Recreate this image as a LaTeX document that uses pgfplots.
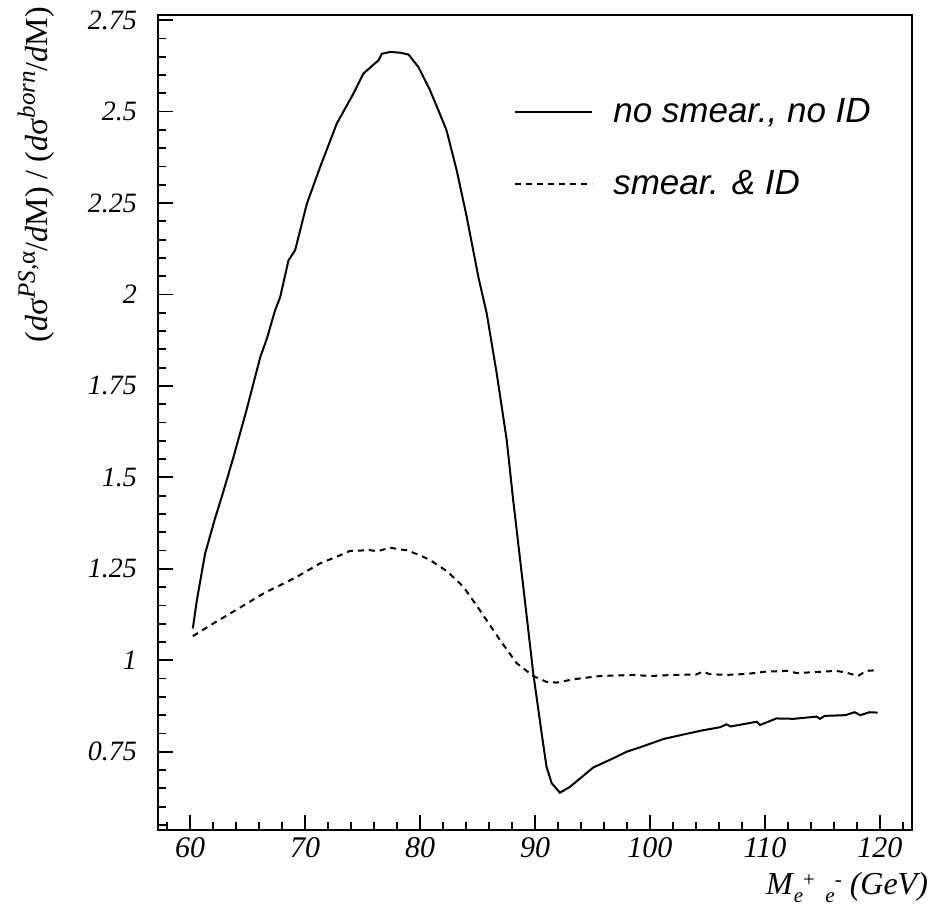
\documentclass[border=0pt]{standalone}
\usepackage{fontspec}
\setmainfont{Liberation Serif}
\newfontfamily\legfont{Liberation Sans}
\usepackage{pgfplots}
\pgfplotsset{compat=1.18}

\pgfplotstableread{
x      y
60.23  1.087
60.58  1.164
61.30  1.292
62.20  1.392
62.75  1.447
63.77  1.556
64.90  1.684
66.10  1.829
66.67  1.879
67.39  1.957
67.83  1.993
68.55  2.093
69.13  2.121
70.15  2.248
71.30  2.348
72.75  2.467
74.20  2.549
75.07  2.604
76.38  2.640
76.67  2.658
77.40  2.663
78.26  2.661
78.99  2.656
79.85  2.622
80.87  2.558
81.60  2.503
82.30  2.449
83.19  2.339
84.06  2.212
85.07  2.048
85.80  1.948
86.67  1.784
87.54  1.602
88.10  1.438
88.98  1.201
89.85  0.964
90.58  0.800
91.00  0.709
91.45  0.664
92.17  0.638
93.04  0.654
95.07  0.707
96.80  0.732
97.97  0.750
99.13  0.762
100.30 0.775
101.20 0.785
102.90 0.797
104.50 0.808
106.10 0.817
106.67 0.825
107.00 0.819
109.30 0.832
109.57 0.823
111.00 0.841
112.50 0.840
114.50 0.846
114.80 0.840
115.20 0.848
117.00 0.850
117.80 0.858
118.30 0.850
119.10 0.858
119.80 0.857
}\nosmear

\pgfplotstableread{
x      y
60.23  1.066
62.03  1.101
63.48  1.128
66.40  1.183
69.28  1.228
71.30  1.265
73.04  1.287
73.90  1.299
75.65  1.301
76.30  1.298
77.39  1.308
78.26  1.303
78.84  1.301
80.00  1.287
80.87  1.274
82.32  1.244
83.77  1.201
85.20  1.137
86.96  1.055
88.41  0.992
89.85  0.957
91.00  0.941
91.90  0.939
93.33  0.948
95.65  0.957
98.55  0.960
100.00 0.957
102.00 0.960
104.00 0.961
104.60 0.969
105.20 0.962
106.70 0.960
108.50 0.963
110.10 0.969
111.90 0.971
112.80 0.965
114.50 0.968
116.20 0.971
117.00 0.967
118.10 0.957
118.80 0.971
119.80 0.973
}\smear

\begin{document}
\begin{tikzpicture}
\begin{axis}[
    name=ax,
    width=377pt,
    height=407.5pt,
    scale only axis,
    xmin=57.2, xmax=122.8,
    ymin=0.536, ymax=2.764,
    xtick={60,70,...,120},
    minor xtick={58,62,64,66,68,72,74,76,78,82,84,86,88,92,94,96,98,102,104,106,108,112,114,116,118,122},
    ytick={0.75,1,1.25,1.5,1.75,2,2.25,2.5,2.75},
    minor ytick={0.55,0.6,...,2.71},
    xtick pos=left,
    ytick pos=left,
    tick align=inside,
    major tick length=7.5pt,
    minor tick length=4pt,
    tick style={line width=0.9pt, black},
    axis line style={line width=1pt},
    /pgf/number format/assume math mode=true,
    xticklabel style={font=\fontsize{15}{15}\selectfont\itshape},
    yticklabel style={font=\fontsize{14}{14}\selectfont\itshape, xshift=-7pt},
    legend style={
        at={(rel axis cs:0.472,0.903)},
        anchor=north west,
        draw=none, fill=none,
        font=\legfont\fontsize{17.5}{17.5}\selectfont\itshape,
        row sep=18.5pt,
        inner sep=0pt,
        /tikz/every odd column/.append style={column sep=8pt},
    },
    legend cell align=left,
    legend image code/.code={\draw[#1] (0pt,0pt) -- (38.5pt,0pt);},
    clip=false,
]
\addplot[black, line width=1pt] table[x=x, y=y] {\nosmear};
\addlegendentry{no smear., no ID}
\addplot[black, line width=1pt, dash pattern=on 3pt off 2.5pt] table[x=x, y=y] {\smear};
\addlegendentry{smear. \& ID}

\node[anchor=base east, font=\fontsize{16}{16}\selectfont\itshape]
    at ([xshift=11.5pt, yshift=-32pt]rel axis cs:1,0)
    {M\kern0.5pt\raisebox{-0.55ex}{\fontsize{10.5}{10.5}\selectfont e\raisebox{1.6ex}{\upshape +}\ \ e\raisebox{1.6ex}{\upshape -}}\ (GeV)};

\node[rotate=90, anchor=base, font=\fontsize{16}{16}\selectfont]
    at ([xshift=-55pt]rel axis cs:0,0.804)
    {(\textit{d}σ\raisebox{0.9ex}{\fontsize{12.5}{12.5}\selectfont\itshape PS,}\raisebox{0.9ex}{\fontsize{12.5}{12.5}\selectfont α}/\textit{d}M) / (\textit{d}σ\raisebox{0.9ex}{\fontsize{12.5}{12.5}\selectfont\itshape born}/\textit{d}M)};
\end{axis}
\pgfresetboundingbox
\path[use as bounding box] ([xshift=-79pt, yshift=-44pt]ax.south west) rectangle ([xshift=10.5pt, yshift=7.5pt]ax.north east);
\end{tikzpicture}
\end{document}
